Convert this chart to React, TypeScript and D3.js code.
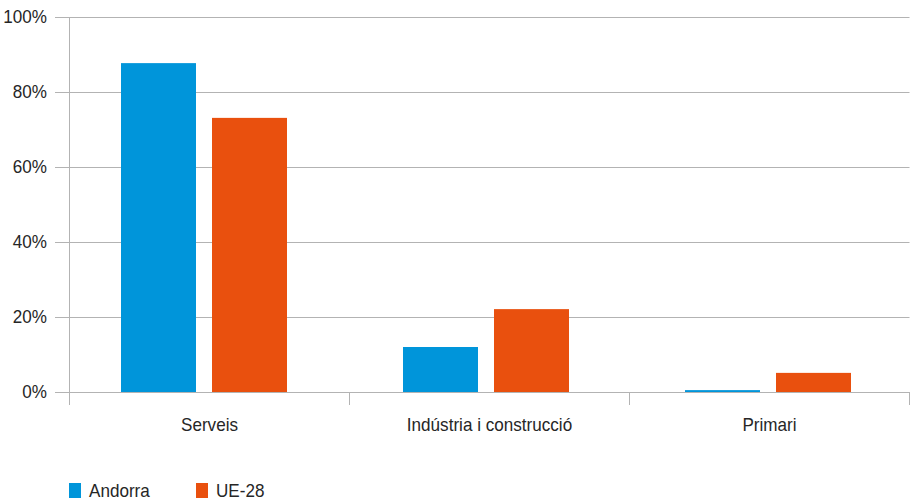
import React from "react";
import * as d3 from "d3";

const categories = ["Serveis", "Indústria i construcció", "Primari"];
const series = ["Andorra", "UE-28"];
const andorra = [87.7, 12.0, 0.5];
const ue28 = [73.1, 22.1, 5.1];
const yTicks = [0, 20, 40, 60, 80, 100];
const colors = ["#0095DA", "#E9500E"];

const W = 911, H = 501;
const left = 69.5, right = 909.5, top = 17, bottom = 392;
const font = "'Liberation Sans', Arial, sans-serif";
const FS = 18;
const SX = 0.95;

function T({ x, y, anchor, children, dy }: { x: number; y: number; anchor?: string; children: React.ReactNode; dy?: string }) {
  return (
    <text
      transform={`translate(${x},${y}) scale(${SX},1)`}
      dy={dy}
      textAnchor={anchor || "start"}
      fontFamily={font}
      fontSize={FS}
      fill="#262626"
    >
      {children}
    </text>
  );
}

export default function App() {
  const xAxis = d3.scaleBand<string>().domain(categories).range([left, right]).padding(0);
  const xBars = d3.scaleBand<string>().domain(categories).range([63, 909]).padding(0);
  const x1 = d3.scaleBand<string>().domain(series).range([-83, 83]).paddingInner(0.176).paddingOuter(0);
  const y = d3.scaleLinear().domain([0, 100]).range([bottom, top]);
  const values = [andorra, ue28];
  const tickXs = [...categories.map((c) => xAxis(c)!), right];

  return (
    <svg width={W} height={H} style={{ position: "absolute", left: 0, top: 0 }}>
      <rect width={W} height={H} fill="#fff" />
      {yTicks.map((t) => (
        <g key={t}>
          <line x1={55} x2={right} y1={Math.round(y(t)) + 0.5} y2={Math.round(y(t)) + 0.5} stroke="#B3B3B3" strokeWidth={1} />
          <T x={47} y={y(t)} dy="0.35em" anchor="end">
            {t}%
          </T>
        </g>
      ))}
      {categories.map((c, i) =>
        series.map((s, j) => {
          const v = values[j][i];
          const x = Math.round(xBars(c)! + xBars.bandwidth() / 2 + x1(s)!);
          return (
            <rect key={c + s} x={x} y={y(v)} width={x1.bandwidth()} height={bottom - y(v)} fill={colors[j]} />
          );
        })
      )}
      <line x1={left} x2={left} y1={top} y2={405} stroke="#B3B3B3" strokeWidth={1} />
      <line x1={55} x2={right} y1={bottom + 0.5} y2={bottom + 0.5} stroke="#B3B3B3" strokeWidth={1} />
      {tickXs.slice(1).map((tx, i) => (
        <line key={i} x1={tx} x2={tx} y1={bottom} y2={405} stroke="#B3B3B3" strokeWidth={1} />
      ))}
      {categories.map((c) => (
        <T key={c} x={xAxis(c)! + xAxis.bandwidth() / 2} y={431} anchor="middle">
          {c}
        </T>
      ))}
      {series.map((s, j) => (
        <g key={s} transform={`translate(${69 + j * 127},0)`}>
          <rect x={0} y={483} width={12} height={15} fill={colors[j]} />
          <T x={20} y={497}>
            {s}
          </T>
        </g>
      ))}
    </svg>
  );
}
